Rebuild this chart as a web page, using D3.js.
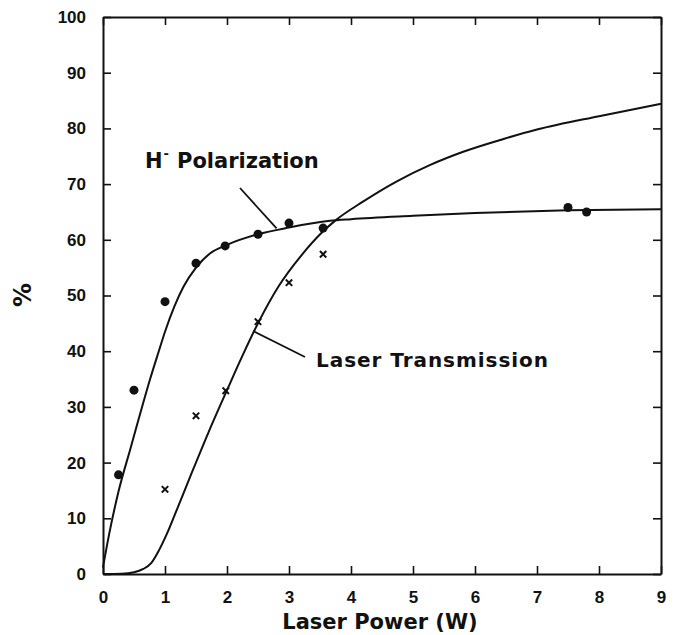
<!DOCTYPE html>
<html>
<head>
<meta charset="utf-8">
<script src="https://cdn.jsdelivr.net/npm/d3@7"></script>
<style>
  html, body { margin: 0; padding: 0; background: #fff; }
  svg { display: block; }
</style>
</head>
<body>
<svg id="chart" width="677" height="635"></svg>
<script>
  // measured points (Laser Power W, %)
  const polPowers = [0.25, 0.5, 1.0, 1.5, 1.97, 2.5, 3.0, 3.55, 7.5, 7.8];
  const polValues = [17.8, 33.0, 48.9, 55.8, 58.9, 61.0, 63.0, 62.1, 65.8, 65.0];
  const transPowers = [1.0, 1.5, 1.98, 2.5, 3.0, 3.55];
  const transValues = [15.2, 28.4, 32.9, 45.3, 52.3, 57.4];

  // fitted curves
  const polCurveX = [0, 0.1, 0.25, 0.45, 0.6, 0.76, 0.9, 1.0, 1.15, 1.3, 1.5, 1.73, 2.0, 2.5, 3.0, 3.66, 4.0, 5.0, 6.0, 7.5, 9.0];
  const polCurveY = [1.2, 7.2, 14.8, 22.8, 28.8, 35, 40, 43.5, 48, 51.6, 55, 57.6, 59.1, 61, 62.2, 63.4, 63.7, 64.3, 64.8, 65.3, 65.5];
  const transCurveX = [0, 0.3, 0.5, 0.65, 0.78, 0.9, 1.03, 1.2, 1.4, 1.7, 2.0, 2.25, 2.5, 2.83, 3.2, 3.53, 3.74, 4.2, 4.74, 5.27, 5.81, 6.46, 7.0, 8.0, 9.0];
  const transCurveY = [0, 0.05, 0.3, 0.9, 2.0, 4.2, 7.2, 11.8, 17.3, 25.4, 33.0, 39.2, 45.0, 51.6, 57.2, 61.3, 63.4, 66.9, 70.5, 73.4, 75.8, 78.1, 79.8, 82.2, 84.4];

  const xTicks = [0, 1, 2, 3, 4, 5, 6, 7, 8, 9];
  const yTicks = [0, 10, 20, 30, 40, 50, 60, 70, 80, 90, 100];

  const svg = d3.select('#chart');
  const plot = { left: 103, right: 661, top: 17, bottom: 574 };

  const x = d3.scaleLinear().domain([0, 9]).range([plot.left, plot.right]);
  const y = d3.scaleLinear().domain([0, 100]).range([plot.bottom, plot.top]);

  const tickFont = '"Liberation Sans", Arial, sans-serif';
  const labelFont = '"DejaVu Sans", sans-serif';
  const ink = '#111';

  // axes with inward ticks on all four sides
  const tickLen = 8;
  const axes = [
    { axis: d3.axisBottom(x).tickValues(xTicks), at: `translate(0,${plot.bottom})`, labels: 'x' },
    { axis: d3.axisTop(x).tickValues(xTicks), at: `translate(0,${plot.top})`, labels: null },
    { axis: d3.axisLeft(y).tickValues(yTicks), at: `translate(${plot.left},0)`, labels: 'y' },
    { axis: d3.axisRight(y).tickValues(yTicks), at: `translate(${plot.right},0)`, labels: null },
  ];

  axes.forEach((a) => {
    a.axis.tickSizeInner(-tickLen).tickSizeOuter(0);
    const g = svg.append('g').attr('transform', a.at).call(a.axis);
    g.select('.domain').attr('stroke', ink).attr('stroke-width', 2);
    g.selectAll('.tick line').attr('stroke', ink).attr('stroke-width', 1.6);
    const t = g.selectAll('.tick text')
      .attr('font-family', tickFont)
      .attr('font-weight', 'bold')
      .attr('font-size', 17)
      .attr('fill', ink);
    if (a.labels === 'x') t.attr('y', 17).attr('dy', '0.71em');
    else if (a.labels === 'y') t.attr('x', -17);
    else t.remove();
  });

  // curves
  const line = d3.line()
    .x((d) => x(d[0]))
    .y((d) => y(d[1]))
    .curve(d3.curveMonotoneX);

  [[polCurveX, polCurveY], [transCurveX, transCurveY]].forEach(([xs, ys]) => {
    svg.append('path')
      .datum(d3.zip(xs, ys))
      .attr('d', line)
      .attr('fill', 'none')
      .attr('stroke', ink)
      .attr('stroke-width', 2);
  });

  // markers
  svg.append('g')
    .selectAll('circle')
    .data(d3.zip(polPowers, polValues))
    .join('circle')
    .attr('cx', (d) => x(d[0]))
    .attr('cy', (d) => y(d[1]))
    .attr('r', 4.5)
    .attr('fill', ink);

  const cross = 3.2;
  svg.append('g')
    .selectAll('path')
    .data(d3.zip(transPowers, transValues))
    .join('path')
    .attr('d', (d) => {
      const cx = x(d[0]), cy = y(d[1]);
      return `M${cx - cross},${cy - cross}L${cx + cross},${cy + cross}M${cx - cross},${cy + cross}L${cx + cross},${cy - cross}`;
    })
    .attr('stroke', ink)
    .attr('stroke-width', 2)
    .attr('fill', 'none');

  // annotations
  const polLabel = svg.append('text')
    .attr('x', 145)
    .attr('y', 168)
    .attr('font-family', labelFont)
    .attr('font-weight', 'bold')
    .attr('font-size', 21)
    .attr('fill', ink);
  polLabel.append('tspan').text('H');
  polLabel.append('tspan').attr('dy', -10).attr('dx', 1).attr('font-size', 13).text('-');
  polLabel.append('tspan').attr('dy', 10).attr('dx', 8).text('Polarization');

  svg.append('line')
    .attr('x1', 240).attr('y1', 188)
    .attr('x2', x(2.8)).attr('y2', y(61.5) - 3)
    .attr('stroke', ink).attr('stroke-width', 1.8);

  svg.append('text')
    .attr('x', 316)
    .attr('y', 367)
    .attr('font-family', labelFont)
    .attr('font-weight', 'bold')
    .attr('font-size', 20)
    .attr('textLength', 232)
    .attr('lengthAdjust', 'spacing')
    .attr('fill', ink)
    .text('Laser Transmission');

  svg.append('line')
    .attr('x1', 253).attr('y1', 331)
    .attr('x2', 305).attr('y2', 357)
    .attr('stroke', ink).attr('stroke-width', 1.8);

  // axis titles
  svg.append('text')
    .attr('x', 380)
    .attr('y', 629)
    .attr('text-anchor', 'middle')
    .attr('font-family', labelFont)
    .attr('font-weight', 'bold')
    .attr('font-size', 21)
    .attr('fill', ink)
    .text('Laser Power (W)');

  svg.append('text')
    .attr('transform', 'translate(31,295) rotate(-90)')
    .attr('text-anchor', 'middle')
    .attr('font-family', labelFont)
    .attr('font-weight', 'bold')
    .attr('font-size', 24)
    .attr('fill', ink)
    .text('%');
</script>
</body>
</html>
